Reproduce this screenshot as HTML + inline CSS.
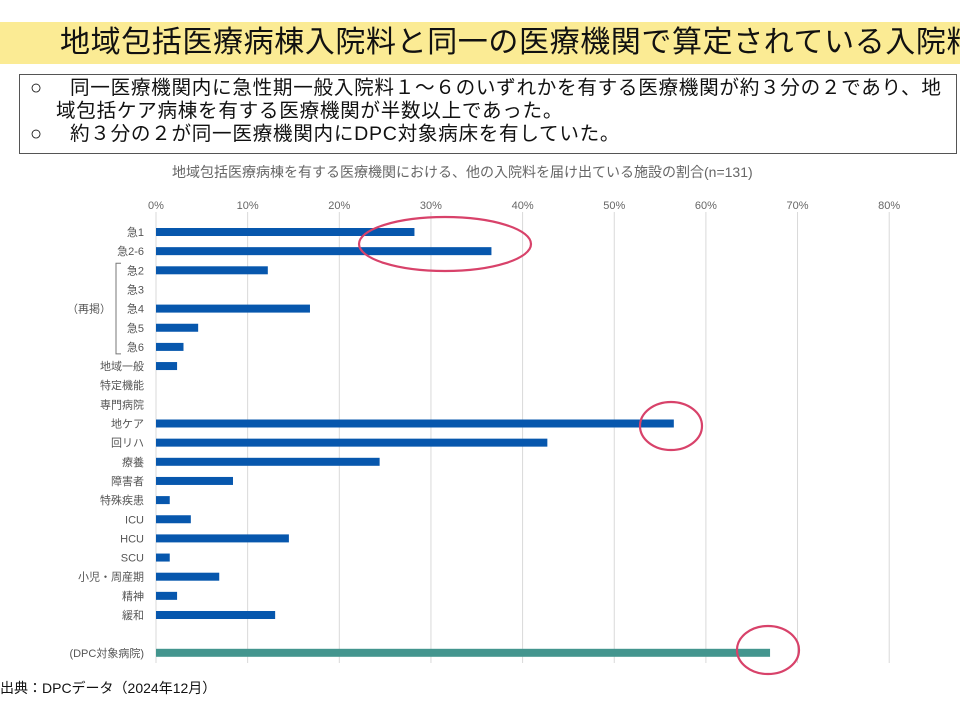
<!DOCTYPE html>
<html><head><meta charset="utf-8"><style>
body{margin:0;width:960px;height:720px;background:#fff;position:relative;overflow:hidden;font-family:"Liberation Sans","Noto Sans CJK JP",sans-serif;}
.t{position:absolute;white-space:nowrap;}
</style></head><body>
<div style="position:absolute;left:0;top:22px;width:960px;height:42px;background:#fbeb94;"></div>
<div class="t" style="left:60px;top:23px;font-size:30px;letter-spacing:0.6px;color:#111;line-height:40px;">地域包括医療病棟入院料と同一の医療機関で算定されている入院料</div>
<div style="position:absolute;left:19px;top:74px;width:936px;height:78px;border:1px solid #555;"></div>
<div class="t" style="left:30px;top:76px;font-size:20px;line-height:24px;color:#111;">○</div>
<div class="t" style="left:70px;top:76px;font-size:19.6px;letter-spacing:0.7px;line-height:24px;color:#111;">同一医療機関内に急性期一般入院料１～６のいずれかを有する医療機関が約３分の２であり、地</div>
<div class="t" style="left:56px;top:99px;font-size:19.6px;letter-spacing:0.7px;line-height:24px;color:#111;">域包括ケア病棟を有する医療機関が半数以上であった。</div>
<div class="t" style="left:30px;top:122px;font-size:20px;line-height:24px;color:#111;">○</div>
<div class="t" style="left:70px;top:122px;font-size:19.6px;letter-spacing:0.7px;line-height:24px;color:#111;">約３分の２が同一医療機関内にDPC対象病床を有していた。</div>
<div class="t" style="left:172px;top:163px;font-size:14px;color:#666;line-height:18px;">地域包括医療病棟を有する医療機関における、他の入院料を届け出ている施設の割合(n=131)</div>
<div class="t" style="left:0px;top:679px;font-size:14px;color:#111;line-height:18px;">出典：DPCデータ（2024年12月）</div>
<svg id="chart" width="960" height="720" style="position:absolute;left:0;top:0;" font-family="Liberation Sans, Noto Sans CJK JP, sans-serif"></svg>
<script>
const categories=["急1","急2-6","急2","急3","急4","急5","急6","地域一般","特定機能","専門病院","地ケア","回リハ","療養","障害者","特殊疾患","ICU","HCU","SCU","小児・周産期","精神","緩和","(DPC対象病院)"];
const values=[28.2,36.6,12.2,0,16.8,4.6,3.0,2.3,0,0,56.5,42.7,24.4,8.4,1.5,3.8,14.5,1.5,6.9,2.3,13.0,67.0];
const ticks=[0,10,20,30,40,50,60,70,80];
const tickLabels=["0%","10%","20%","30%","40%","50%","60%","70%","80%"];
const svg=document.getElementById('chart');const NS="http://www.w3.org/2000/svg";
function x(v){return 156+v*9.165;}
function y(i){return i<21?232+i*19.15:232+22*19.15-0.5;}
function mk(t,a,p){const e=document.createElementNS(NS,t);for(const k in a)e.setAttribute(k,a[k]);(p||svg).appendChild(e);return e;}
ticks.forEach((t,i)=>{
 const g=mk('line',{x1:x(t),x2:x(t),y1:212,y2:663,stroke:'#d9d9d9','stroke-width':1});
 
 
 const l=mk('text',{x:x(t),y:212-1,'font-size':11,fill:'#666','text-anchor':'middle'});
 
 
 l.setAttribute('y',211);l.textContent=tickLabels[i];l.setAttribute('y',211-0);l.setAttribute('dy','-0.1em');l.setAttribute('y',210);
});
categories.forEach((c,i)=>{
 const yc=y(i);
 const last=i===categories.length-1;
 if(values[i]>0){
  const r=mk('rect',{x:x(0),y:yc-4,width:x(values[i])-x(0),height:8,fill:last?'#43958e':'#0757ad'});
  
  
 }
 const t=mk('text',{x:144,y:yc+4,'font-size':11,fill:'#555','text-anchor':'end'});
 
 
 t.textContent=c;
});
const br=mk('path',{d:`M121 ${y(2)-7} H116 V${y(6)+7} H121`,fill:'none',stroke:'#777','stroke-width':1});


const rt=mk('text',{x:111,y:y(4)+4,'font-size':11,fill:'#555','text-anchor':'end'});


rt.textContent='（再掲）';
[[445,244,86,27],[671,426,31,24],[768,650,31,24]].forEach((e,i)=>{
 const el=mk('ellipse',{cx:e[0],cy:e[1],rx:e[2],ry:e[3],fill:'none',stroke:'#d8426a','stroke-width':2.2});
 
 
});
</script>
</body></html>
